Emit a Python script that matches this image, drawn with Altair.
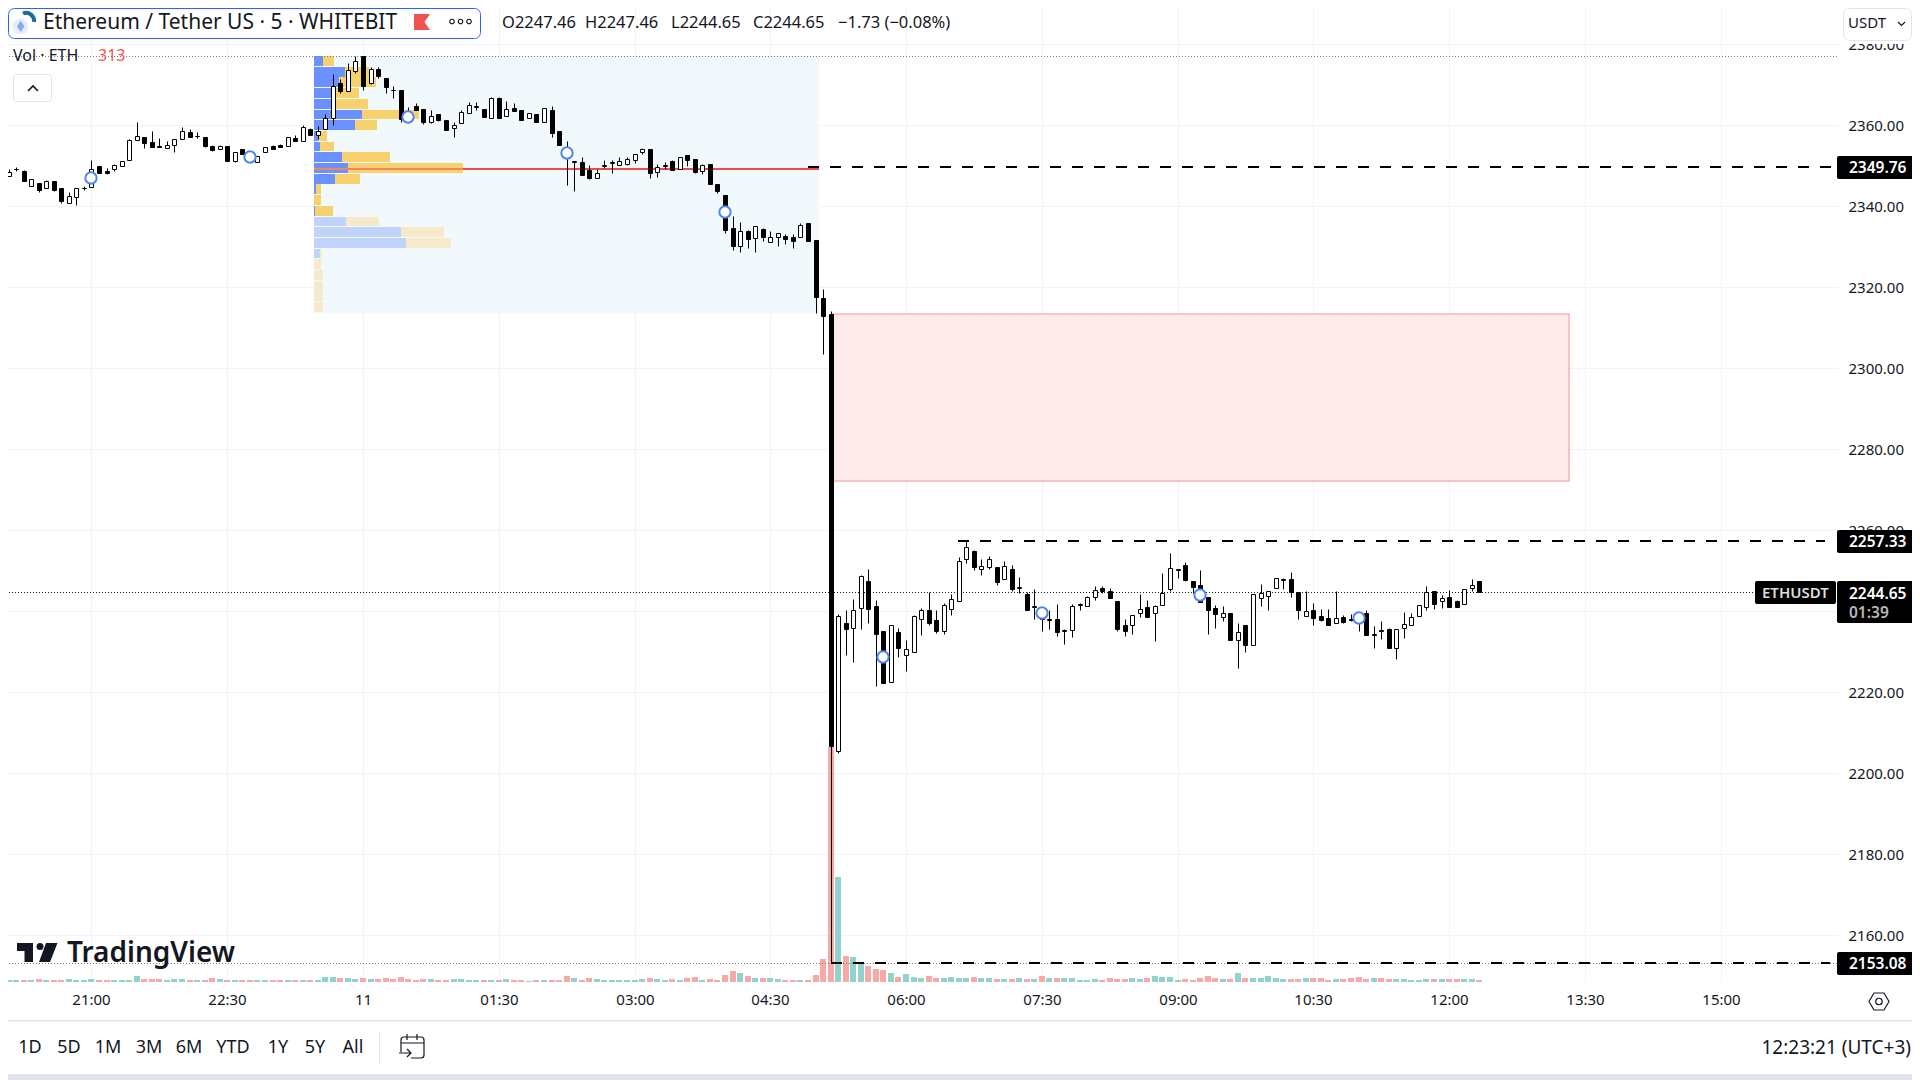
import altair as alt
import pandas as pd

FONT = "Noto Sans"
INK = "#131722"

first_index = -12
opens = [
 2348.6,2347.5,2349.1,2348.7,2344.9,2345.7,2344.5,2346.2,2344.5,2340.8,
 2342.2,2344.4,2344.7,2350.0,2348.7,2349.2,2349.9,2351.5,2356.3,2357.0,
 2355.9,2354.9,2354.3,2355.1,2356.6,2358.4,2357.3,2357.0,2354.9,2354.1,
 2354.9,2351.2,2354.1,2352.9,2350.9,2353.5,2354.9,2355.2,2355.0,2356.9,
 2356.2,2359.0,2357.5,2359.0,2361.7,2370.4,2368.4,2373.5,2377.1,2370.5,
 2373.8,2371.6,2368.8,2368.7,2363.2,2364.8,2364.0,2360.9,2362.7,2361.2,
 2359.4,2360.5,2363.1,2364.5,2364.0,2361.9,2366.7,2362.2,2364.2,2363.7,
 2361.7,2362.8,2360.7,2363.7,2358.6,2354.3,2351.0,2350.9,2349.0,2346.9,
 2350.0,2350.8,2350.3,2350.5,2351.5,2353.3,2354.2,2348.4,2350.0,2351.1,
 2349.1,2352.6,2351.8,2348.6,2350.4,2345.5,2342.8,2334.6,2330.3,2333.8,
 2332.1,2334.3,2331.1,2332.3,2332.7,2332.4,2332.3,2335.9,2331.7,2317.3,
 2313.4,2205.4,2237.1,2236.0,2240.7,2247.4,2241.2,2235.1,2222.5,2234.8,
 2229.1,2229.9,2238.0,2240.2,2237.8,2235.1,2240.5,2242.5,2252.8,2254.8,
 2250.5,2250.9,2250.9,2247.9,2250.4,2245.7,2244.3,2241.1,2240.7,2237.9,
 2238.0,2235.2,2235.3,2241.6,2241.2,2243.5,2245.8,2244.9,2242.5,2236.5,
 2236.5,2239.5,2241.0,2239.7,2241.5,2245.4,2250.2,2251.4,2247.6,2246.5,
 2243.5,2240.7,2238.7,2239.5,2232.8,2236.5,2231.8,2243.2,2243.7,2245.7,
 2247.8,2247.9,2244.7,2238.8,2240.2,2238.8,2238.3,2237.0,2238.6,2238.0,
 2239.2,2239.5,2234.2,2235.5,2235.6,2231.0,2236.0,2236.5,2238.8,2241.0,
 2244.9,2242.6,2243.5,2242.5,2241.7,2245.7,2247.46]
highs = [
 2349.2,2349.1,2349.8,2349.0,2346.8,2345.7,2346.4,2346.2,2344.5,2343.6,
 2344.4,2344.9,2351.4,2350.0,2349.4,2350.5,2351.1,2356.7,2360.8,2357.0,
 2358.6,2356.8,2356.2,2356.6,2359.6,2359.0,2358.3,2357.0,2355.2,2355.2,
 2354.9,2353.5,2354.1,2353.2,2352.5,2354.6,2355.2,2355.4,2357.0,2357.5,
 2360.0,2359.4,2359.8,2362.7,2372.7,2371.5,2375.3,2377.0,2377.1,2374.5,
 2374.4,2371.6,2369.7,2368.7,2364.6,2365.4,2364.0,2363.7,2362.7,2361.2,
 2360.8,2363.7,2365.7,2365.7,2364.0,2366.9,2366.9,2366.0,2365.5,2363.7,
 2363.0,2362.8,2364.2,2364.7,2358.6,2356.1,2351.2,2352.2,2350.2,2349.1,
 2351.4,2351.4,2352.1,2352.2,2352.8,2354.4,2354.2,2350.4,2350.9,2351.4,
 2352.1,2352.6,2351.8,2350.4,2350.4,2345.5,2342.8,2337.6,2336.1,2334.1,
 2335.1,2334.6,2333.9,2333.3,2333.1,2333.2,2336.0,2335.9,2331.7,2319.6,
 2314.2,2239.4,2240.3,2243.0,2248.9,2250.4,2242.8,2235.1,2236.5,2236.0,
 2232.9,2239.0,2240.7,2244.8,2240.3,2242.0,2244.2,2253.5,2257.33,2255.1,
 2252.9,2253.7,2250.9,2252.3,2251.4,2248.5,2244.8,2245.4,2241.0,2240.2,
 2241.8,2235.7,2241.8,2242.0,2243.8,2246.2,2246.2,2245.7,2242.5,2238.0,
 2239.0,2244.3,2242.8,2241.6,2249.5,2254.4,2250.5,2252.2,2247.6,2250.2,
 2243.5,2241.5,2241.3,2239.5,2237.0,2236.5,2244.2,2246.7,2245.1,2248.1,
 2248.2,2249.6,2244.7,2245.0,2242.0,2240.6,2240.5,2245.0,2239.1,2239.3,
 2239.5,2240.3,2236.3,2237.5,2235.8,2235.6,2239.8,2239.7,2241.5,2246.2,
 2244.9,2244.0,2245.2,2242.7,2245.6,2247.9,2247.46]
lows = [
 2348.2,2347.5,2348.6,2346.3,2344.9,2343.6,2344.5,2343.9,2340.7,2340.8,
 2340.4,2344.1,2344.7,2348.3,2348.1,2348.6,2349.9,2351.4,2356.3,2354.5,
 2354.7,2354.6,2354.3,2353.5,2356.6,2357.2,2356.9,2354.7,2353.7,2354.1,
 2351.2,2351.0,2353.0,2351.6,2350.9,2353.5,2354.2,2354.7,2355.0,2356.2,
 2356.2,2357.7,2356.6,2359.0,2360.1,2368.1,2368.4,2373.0,2368.7,2370.3,
 2371.7,2368.0,2366.8,2360.7,2361.0,2363.8,2360.2,2360.6,2361.1,2358.9,
 2357.0,2360.5,2363.1,2363.8,2362.1,2361.9,2361.9,2362.2,2363.6,2361.4,
 2361.7,2360.7,2360.7,2357.2,2355.2,2345.3,2343.9,2347.7,2346.8,2346.9,
 2349.5,2348.3,2350.3,2350.3,2350.7,2352.9,2347.0,2347.3,2349.1,2349.0,
 2349.1,2350.0,2348.2,2348.0,2345.6,2343.3,2333.5,2329.2,2328.7,2329.7,
 2328.7,2331.4,2331.1,2330.2,2330.8,2329.8,2332.3,2331.4,2313.7,2303.5,
 2153.08,2204.9,2229.3,2227.6,2235.7,2237.2,2221.6,2222.4,2222.5,2228.6,
 2225.3,2229.9,2234.2,2236.7,2234.7,2234.5,2239.2,2242.5,2252.0,2250.3,
 2249.0,2250.5,2246.6,2247.9,2245.1,2244.6,2240.2,2238.2,2235.2,2235.6,
 2234.0,2231.9,2233.7,2240.4,2241.2,2242.8,2244.6,2243.4,2235.2,2233.9,
 2234.4,2238.6,2238.7,2232.7,2241.5,2245.0,2248.2,2247.5,2244.6,2242.2,
 2234.5,2236.0,2237.7,2232.8,2226.1,2230.0,2231.8,2241.3,2240.2,2245.7,
 2245.4,2243.6,2238.2,2238.8,2236.7,2237.5,2236.7,2237.0,2237.2,2237.5,
 2235.2,2234.2,2231.0,2233.2,2231.0,2228.3,2233.5,2236.5,2238.8,2240.3,
 2240.5,2240.9,2241.1,2241.1,2241.7,2245.1,2244.65]
closes = [
 2348.8,2348.4,2349.3,2346.3,2346.8,2344.0,2346.3,2344.1,2341.2,2342.6,
 2344.4,2344.6,2349.2,2348.3,2348.3,2350.1,2351.1,2356.3,2357.3,2355.6,
 2354.7,2354.7,2355.1,2356.6,2358.5,2357.2,2357.4,2355.0,2353.9,2354.8,
 2351.2,2353.5,2353.0,2351.6,2352.5,2354.6,2354.2,2354.7,2357.0,2356.2,
 2359.5,2357.7,2358.7,2361.7,2369.8,2368.4,2373.6,2375.8,2369.7,2373.8,
 2372.2,2369.5,2368.6,2361.6,2361.2,2363.8,2360.9,2362.2,2361.3,2358.9,
 2360.0,2363.2,2365.1,2364.7,2362.1,2366.7,2361.9,2364.0,2363.6,2361.4,
 2363.0,2360.7,2364.2,2358.2,2355.2,2351.9,2351.1,2347.7,2347.1,2348.2,
 2350.1,2350.9,2351.1,2351.6,2352.8,2354.1,2348.3,2349.6,2350.2,2349.0,
 2352.1,2351.5,2348.5,2350.1,2345.6,2343.9,2334.2,2330.3,2333.8,2332.0,
 2335.1,2332.3,2332.3,2333.3,2331.9,2331.5,2335.5,2331.4,2317.6,2313.0,
 2206.7,2238.8,2235.7,2240.2,2248.6,2240.5,2234.5,2222.4,2236.5,2231.0,
 2230.6,2238.8,2240.2,2237.2,2235.2,2241.5,2243.0,2252.5,2256.0,2251.0,
 2251.1,2252.8,2247.3,2251.1,2245.6,2245.9,2240.2,2241.3,2238.1,2238.1,
 2235.0,2235.4,2241.2,2241.8,2243.5,2245.3,2245.0,2243.4,2235.7,2235.2,
 2239.0,2240.5,2238.7,2241.2,2244.6,2250.6,2250.4,2247.7,2246.0,2242.2,
 2240.2,2239.4,2239.5,2232.8,2235.0,2231.8,2244.2,2244.4,2245.1,2248.1,
 2248.0,2244.7,2240.4,2240.0,2238.4,2237.9,2236.7,2238.4,2237.4,2237.8,
 2237.2,2234.2,2234.4,2235.1,2231.0,2235.6,2236.8,2238.5,2241.5,2244.7,
 2241.9,2243.2,2241.1,2241.1,2245.6,2246.4,2244.65]
volumes = [
 320,320,320,320,320,480,320,320,320,480,
 320,320,480,320,320,320,320,320,960,480,
 480,480,320,480,480,320,320,320,640,480,
 320,320,320,320,320,320,320,320,320,320,
 320,320,320,800,800,640,640,480,640,480,
 480,640,480,800,480,320,480,480,320,320,
 480,480,320,320,320,320,320,480,320,320,
 160,320,320,320,320,960,640,320,640,480,
 320,320,320,320,320,480,640,480,320,480,
 320,640,800,320,480,320,1120,1760,1440,960,
 640,640,640,480,320,320,320,320,1120,3680,
 37600,16800,4160,4000,2880,2560,2080,1920,1440,800,
 1280,800,640,960,640,640,800,640,640,800,
 640,640,480,480,480,640,480,480,960,640,
 640,640,640,320,320,480,320,640,480,480,
 640,480,640,960,800,800,320,480,320,640,
 960,640,480,480,1440,640,640,640,960,640,
 480,480,480,640,640,640,320,480,480,640,
 800,480,640,640,480,480,480,320,320,480,
 480,480,480,480,480,480,313]
marker_index = [0, 21, 42, 63, 84, 105, 126, 147, 168]
marker_price = [2347.1, 2352.1, 2362.0, 2353.1, 2338.5, 2228.6, 2239.5, 2244.1, 2238.4]

price_ticks = [2160, 2180, 2200, 2220, 2240, 2260, 2280, 2300, 2320, 2340, 2360, 2380]
time_ticks = [0, 18, 36, 54, 72, 90, 108, 126, 144, 162, 180, 198, 216]
time_labels = ["21:00", "22:30", "11", "01:30", "03:00", "04:30", "06:00", "07:30",
               "09:00", "10:30", "12:00", "13:30", "15:00"]

profile_row_price = [2377.1 - 2.642 * k for k in range(24)]
profile_buy = [9, 31, 25, 18, 18, 48, 41, 4, 6, 28, 34, 21, 2, 0, 1, 32, 87, 92, 6, 0, 0, 0, 0, 0]
profile_sell = [11, 24, 37, 27, 36, 57, 22, 9, 14, 48, 115, 25, 5, 7, 18, 33, 43, 45, 2, 7, 9, 9, 9, 9]
value_area_rows = 15

levels = [2349.76, 2257.33, 2153.08]
level_start = [95.0, 114.9, 98.0]
level_end = [230.8, 229.9, 230.5]
session_high = 2377.1
session_low = 2153.08
last_price = 2244.65
poc_price = 2349.3
zone_top, zone_bottom = 2313.4, 2272.2
zone_start, zone_end = 98.3, 195.9
profile_start, profile_end = 29.5, 96.46
profile_top, profile_bottom = 2377.1, 2313.7

range_buttons = ["1D", "5D", "1M", "3M", "6M", "YTD", "1Y", "5Y", "All"]

idx = list(range(first_index, first_index + len(opens)))
assert len(opens) == len(highs) == len(lows) == len(closes) == len(volumes) == 197
df = pd.DataFrame({"i": idx, "o": opens, "h": highs, "l": lows, "c": closes, "v": volumes})
df["up"] = df.c >= df.o
df["top"] = df[["o", "c"]].max(axis=1)
df["bot"] = df[["o", "c"]].min(axis=1)

PX_PER_CANDLE = 7.542
xs = alt.Scale(domain=[-12.132, 231.57], nice=False, zero=False, round=True, padding=0)
ys = alt.Scale(domain=[2390.94, 2148.47], range=[0, 982], nice=False, zero=False, round=True, padding=0)
vs = alt.Scale(domain=[0, 157120], range=[982, 0], nice=False, zero=True, round=True, padding=0)

x_axis = alt.Axis(values=time_ticks, grid=True, gridColor="#F0F3FA", ticks=False, domain=False,
                  labelExpr="[" + ",".join(f"'{t}'" for t in time_labels) + "][datum.value/18]",
                  labelFont=FONT, labelFontSize=15, labelColor=INK, labelPadding=10,
                  labelOverlap=False, labelFlush=False, title=None)
y_axis = alt.Axis(values=price_ticks, orient="right", format=".2f", grid=True, gridColor="#F0F3FA",
                  ticks=False, domain=False, labelFont=FONT, labelFontSize=15, labelColor=INK,
                  labelPadding=10, labelOverlap=False, labelFlush=False, title=None)


def X(f):
    return alt.X(f, type="quantitative", scale=xs, axis=x_axis, title=None)


def Y(f):
    return alt.Y(f, type="quantitative", scale=ys, axis=None, title=None)


one = pd.DataFrame({"k": [0]})
layers = []

axes = alt.Chart(one.assign(x=0.0, y=2360.0)).mark_point(opacity=0).encode(
    x=alt.X("x:Q", scale=xs, axis=x_axis), y=alt.Y("y:Q", scale=ys, axis=y_axis))
layers.append(axes)

# profile background
layers.append(alt.Chart(pd.DataFrame({"a": [profile_start], "b": [profile_end], "t": [profile_top], "u": [profile_bottom]}))
              .mark_rect(color="#F1F9FD").encode(x=X("a"), x2="b", y=Y("t"), y2="u"))

# volume bars
layers.append(alt.Chart(df).mark_bar(size=6).encode(
    x=X("i"),
    y=alt.Y("v", type="quantitative", scale=vs, axis=None, stack=None),
    color=alt.condition("datum.up", alt.value("#92D2CC"), alt.value("#F7A9A7"))))

# red zone
layers.append(alt.Chart(pd.DataFrame({"a": [zone_start], "b": [zone_end], "t": [zone_top], "u": [zone_bottom]}))
              .mark_rect(fill="#FDEAEA", stroke="#F7B5B8", strokeWidth=1.5).encode(x=X("a"), x2="b", y=Y("t"), y2="u"))

# volume profile
prof = pd.DataFrame({"p": profile_row_price, "buy": profile_buy, "sell": profile_sell})
prof["pb"] = prof.p - 2.64 * 0.92
prof["row"] = range(len(prof))
prof["x0"] = profile_start
prof["x1"] = profile_start + prof.buy / PX_PER_CANDLE
prof["x2"] = prof.x1 + prof.sell / PX_PER_CANDLE
va = prof[prof.row < value_area_rows]
na = prof[prof.row >= value_area_rows]
for d, cb, cs in ((va, "#6B90FF", "#F8D16F"), (na, "#C0D3FB", "#F5EACA")):
    layers.append(alt.Chart(d).mark_rect(color=cs).encode(x=X("x1"), x2="x2", y=Y("p"), y2="pb"))
    layers.append(alt.Chart(d[d.buy > 0]).mark_rect(color=cb).encode(x=X("x0"), x2="x1", y=Y("p"), y2="pb"))

# POC line
layers.append(alt.Chart(pd.DataFrame({"a": [profile_start], "b": [profile_end], "y": [poc_price]}))
              .mark_rule(color="#EF4B4B", strokeWidth=2).encode(x=X("a"), x2="b", y=Y("y")))
pp = prof[prof.row == 10]
layers.append(alt.Chart(pp.assign(y=poc_price)).mark_rule(color="#F8D16F", strokeWidth=2, opacity=0.45)
              .encode(x=X("x0"), x2="x2", y=Y("y")))

# dotted lines
for price, end, col in ((session_high, 1838, "#787B86"), (session_low, 1838, "#787B86"), (last_price, 1755, "#131722")):
    layers.append(alt.Chart(pd.DataFrame({"y": [price]})).mark_rule(
        color=col, strokeWidth=1, strokeDash=[1, 2], yOffset=0.5).encode(
        x=alt.value(0), x2=alt.value(end), y=Y("y")))

# candles
layers.append(alt.Chart(df).mark_rule(color="black", strokeWidth=1, xOffset=0.5, x2Offset=0.5, yOffset=0.5, y2Offset=0.5)
              .encode(x=X("i"), y=Y("h"), y2="l"))
for d, fill in ((df[df.up], "white"), (df[~df.up], "black")):
    layers.append(alt.Chart(d).mark_bar(size=4, fill=fill, stroke="black", strokeWidth=1, xOffset=0.5, yOffset=0.5, y2Offset=0.5)
                  .encode(x=X("i"), y=Y("top"), y2="bot"))

# session markers
layers.append(alt.Chart(pd.DataFrame({"i": marker_index, "p": marker_price})).mark_point(
    filled=True, fill="white", stroke="#4F85EE", strokeWidth=2, size=128, opacity=1, shape="circle")
    .encode(x=X("i"), y=Y("p")))

# dashed levels
lv = pd.DataFrame({"p": levels, "a": level_start, "b": level_end})
layers.append(alt.Chart(lv).mark_rule(color="black", strokeWidth=2, strokeDash=[11, 11]).encode(x=X("a"), x2="b", y=Y("p")))


def txt(s, x, y, size=14, color=INK, align="left", weight="normal"):
    return alt.Chart(one).mark_text(text=s, align=align, baseline="middle", fontSize=size, font=FONT,
                                    color=color, fontWeight=weight).encode(x=alt.value(x), y=alt.value(y + 1))


def box(x, x2, y, y2, fill=None, stroke=None, sw=1, r=0):
    kw = {"fill": fill or "white"}
    if stroke:
        kw["stroke"] = stroke
        kw["strokeWidth"] = sw
    if r:
        kw["cornerRadius"] = r
    return alt.Chart(one).mark_rect(**kw).encode(x=alt.value(x), x2=alt.value(x2), y=alt.value(y), y2=alt.value(y2))


def icon(path, fill=None, stroke=None, sw=1.2):
    kw = dict(shape=path, size=4, opacity=1)
    if fill:
        kw.update(filled=True, fill=fill, strokeWidth=0)
    else:
        kw.update(filled=False, stroke=stroke, strokeWidth=sw)
    return alt.Chart(one).mark_point(**kw).encode(x=alt.value(0), y=alt.value(0))


def dot(x, y, d, fill=None, stroke=None, sw=1.2):
    kw = dict(shape="circle", size=d * d, opacity=1)
    if fill:
        kw.update(filled=True, fill=fill, strokeWidth=0)
    else:
        kw.update(filled=False, stroke=stroke, strokeWidth=sw)
    return alt.Chart(one).mark_point(**kw).encode(x=alt.value(x), y=alt.value(y))


chrome = []
# header (the page margin hides the outermost 8 px, so the frame sits just inside it)
chrome += [box(8.5, 480.5, 8.5, 38.5, fill="white", stroke="#2962FF", sw=1, r=6)]
chrome += [dot(20.5, 26.5, 16, fill="#E8EEF8"),
           icon("M20.7,20.5L24.5,26.5L20.7,32L17,26.5Z", fill="#86ADF0"),
           icon("M23,13.5A8,8,0,0,1,34,22", stroke="#1E6C96", sw=4)]
chrome += [txt("Ethereum / Tether US · 5 · WHITEBIT", 43, 22, size=21)]
chrome += [icon("M414,14H430L424.5,22L430,30H414Z", fill="#EF5350")]
chrome += [dot(452, 21.5, 4.5, stroke=INK), dot(460.5, 21.5, 4.5, stroke=INK), dot(469, 21.5, 4.5, stroke=INK)]
for s, x in (("O2247.46", 502), ("H2247.46", 585), ("L2244.65", 671), ("C2244.65", 753), ("−1.73 (−0.08%)", 838)):
    chrome += [txt(s, x, 21.5, size=16.5)]
chrome += [txt("Vol  ·  ETH", 13, 55, size=16), txt("313", 98, 55, size=16, color="#EF5350")]
chrome += [box(13.5, 51.5, 74.5, 101.5, fill="white", stroke="#E0E3EB", r=3),
           icon("M28,91L33,86L38,91", stroke=INK, sw=1.6)]
# logo
chrome += [icon("M17,943H33V962H24.5V951H17Z", fill=INK), dot(40, 946.5, 7, fill=INK),
           icon("M46,943H57.5L50,962H39Z", fill=INK),
           txt("TradingView", 67, 953, size=28, weight=600)]
# right scale cover + currency
chrome += [box(1838, 1920, 0, 44, fill="white"),
           box(1843.5, 1911.5, 8.5, 40.5, fill="white", stroke="#E0E3EB", r=6),
           txt("USDT", 1848, 21.5, size=15), icon("M1898,22L1901.5,25.5L1905,22", stroke=INK, sw=1.2)]
# price badges
for label, y0, y1 in (("2349.76", 156, 179), ("2257.33", 530, 553), ("2153.08", 952, 975)):
    chrome += [box(1837, 1914, y0, y1, fill="black", r=2),
               txt(label, 1849, (y0 + y1) / 2 - 0.5, size=15.5, color="white", weight=600)]
chrome += [box(1837, 1914, 581, 623, fill="black", r=2),
           txt("2244.65", 1849, 592.5, size=15.5, color="white", weight=600),
           txt("01:39", 1849, 611.5, size=15.5, color="#B8B8B8", weight=600),
           box(1755, 1836, 581, 604, fill="black", r=2),
           txt("ETHUSDT", 1762, 592, size=15, color="#DDDDDD", weight=600)]
# gear
chrome += [icon("M1869,1001.5L1874,993H1884L1889,1001.5L1884,1010H1874Z", stroke=INK, sw=1.2),
           dot(1879, 1001.5, 6.5, stroke=INK)]
# bottom toolbar
chrome += [box(0, 1920, 1020, 1021.5, fill="#E0E3EB"), box(0, 1920, 1074, 1080, fill="#E0E3EB"),
           box(379, 380, 1032, 1063, fill="#E0E3EB")]
for s, cx in zip(range_buttons, [30, 69, 108, 149, 189, 233, 278, 315, 353]):
    chrome += [txt(s, cx, 1046.5, size=18, align="center")]
chrome += [icon("M401,1052V1040Q401,1037,404,1037H421Q424,1037,424,1040V1055Q424,1058,421,1058H411M401,1043H424M407,1034V1040M417,1034V1040M399,1053H411M407,1049L411,1053L407,1057",
                stroke=INK, sw=1.2)]
chrome += [txt("12:23:21 (UTC+3)", 1911, 1046.5, size=19, align="right")]

chart = alt.layer(*layers, *chrome).resolve_scale(y="independent").properties(
    width=1838, height=982,
    padding={"left": -8, "top": -8, "right": 74, "bottom": 98},
    autosize=alt.AutoSizeParams(type="none", contains="content"),
).configure_view(stroke=None)

chart.save("out.html", embed_options={"renderer": "svg", "actions": False})
